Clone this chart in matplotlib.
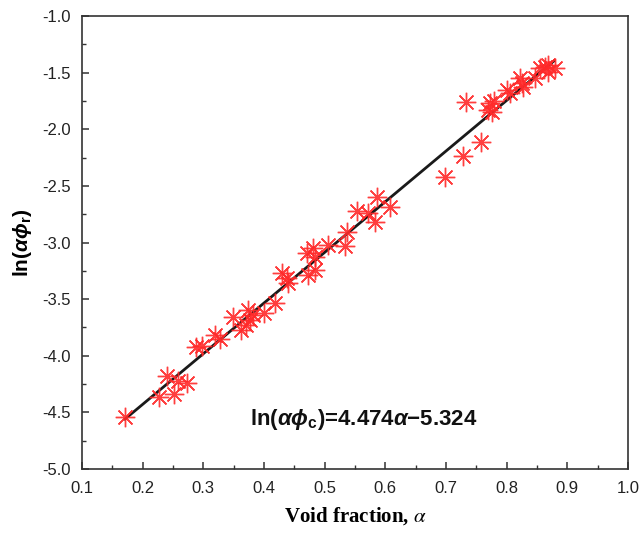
import matplotlib
matplotlib.use("Agg")
import matplotlib.pyplot as plt
from matplotlib.ticker import MultipleLocator
import numpy as np

# measured points (void fraction, ln(alpha*phi_r))
void_frac = [0.171, 0.227, 0.240, 0.252, 0.258, 0.273, 0.288, 0.298, 0.319, 0.327,
             0.349, 0.362, 0.370, 0.374, 0.377, 0.382, 0.400, 0.418, 0.430, 0.438,
             0.440, 0.471, 0.473, 0.480, 0.484, 0.484, 0.505, 0.533, 0.537, 0.553,
             0.571, 0.583, 0.586, 0.608, 0.698, 0.728, 0.758, 0.733, 0.769, 0.772,
             0.779, 0.776, 0.800, 0.805, 0.822, 0.825, 0.827, 0.847, 0.855, 0.863,
             0.868, 0.880, 0.868]
ln_phi = [-4.54, -4.36, -4.18, -4.34, -4.22, -4.24, -3.92, -3.91, -3.82, -3.85,
          -3.66, -3.77, -3.73, -3.60, -3.68, -3.64, -3.62, -3.53, -3.27, -3.31,
          -3.36, -3.09, -3.29, -3.05, -3.13, -3.24, -3.02, -3.03, -2.91, -2.72,
          -2.74, -2.82, -2.60, -2.69, -2.42, -2.24, -2.11, -1.76, -1.83, -1.77,
          -1.75, -1.85, -1.65, -1.68, -1.55, -1.59, -1.63, -1.55, -1.46, -1.45,
          -1.49, -1.46, -1.43]

# linear fit ln(alpha*phi_c) = a*alpha + b
fit_a, fit_b = 4.474, -5.324
fit_range = [0.171, 0.878]

plt.rcParams["mathtext.fontset"] = "custom"
plt.rcParams["mathtext.rm"] = "Liberation Sans:bold"
plt.rcParams["mathtext.it"] = "Liberation Sans:italic:bold"
plt.rcParams["mathtext.bf"] = "Liberation Sans:bold"

fig = plt.figure(figsize=(6.43, 5.35), dpi=100)
ax = fig.add_axes([0.1275, 0.1234, 0.8492, 0.8466])

xf = np.array(fit_range)
ax.plot(xf, fit_a * xf + fit_b, color="#1a1a1a", linewidth=2.0, zorder=2)
ax.plot(void_frac, ln_phi, linestyle="none", marker=(8, 2, 0), markersize=14,
        markeredgewidth=1.0, color="#ff2a2a", alpha=0.9, zorder=3)

ax.set_xlim(0.1, 1.0)
ax.set_ylim(-5.0, -1.0)
ax.xaxis.set_major_locator(MultipleLocator(0.1))
ax.xaxis.set_minor_locator(MultipleLocator(0.05))
ax.yaxis.set_major_locator(MultipleLocator(0.5))
ax.yaxis.set_minor_locator(MultipleLocator(0.25))
ax.xaxis.set_major_formatter(plt.FuncFormatter(lambda v, p: f"{v:.1f}"))
ax.yaxis.set_major_formatter(plt.FuncFormatter(lambda v, p: f"{v:.1f}"))
ax.tick_params(which="both", direction="in", top=False, right=False,
               colors="#333333", labelcolor="#222222")
ax.tick_params(which="major", length=5, width=1.1, labelsize=12)
ax.tick_params(axis="x", which="major", pad=9)
ax.tick_params(axis="y", which="major", pad=8)
ax.tick_params(which="minor", length=3, width=1.0)
for lab in ax.get_xticklabels() + ax.get_yticklabels():
    lab.set_fontfamily("Liberation Sans")
for sp in ax.spines.values():
    sp.set_color("#333333")
    sp.set_linewidth(1.2)

ax.set_xlabel(r"Void fraction, $\it{\alpha}$", fontsize=15, fontweight="bold",
              family="Liberation Serif", math_fontfamily="stix", labelpad=6)
ax.set_ylabel(r"ln($\alpha\phi_\mathrm{r}$)", fontsize=15, fontweight="bold",
              family="Liberation Sans", labelpad=6)

ax.text(0.377, -4.56, r"ln($\alpha\phi_\mathrm{c}$)=4.474$\alpha$$-$5.324",
        fontsize=16, fontweight="bold", family="Liberation Sans",
        ha="left", va="center", color="#111111")

fig.savefig("out.png", dpi=100)
